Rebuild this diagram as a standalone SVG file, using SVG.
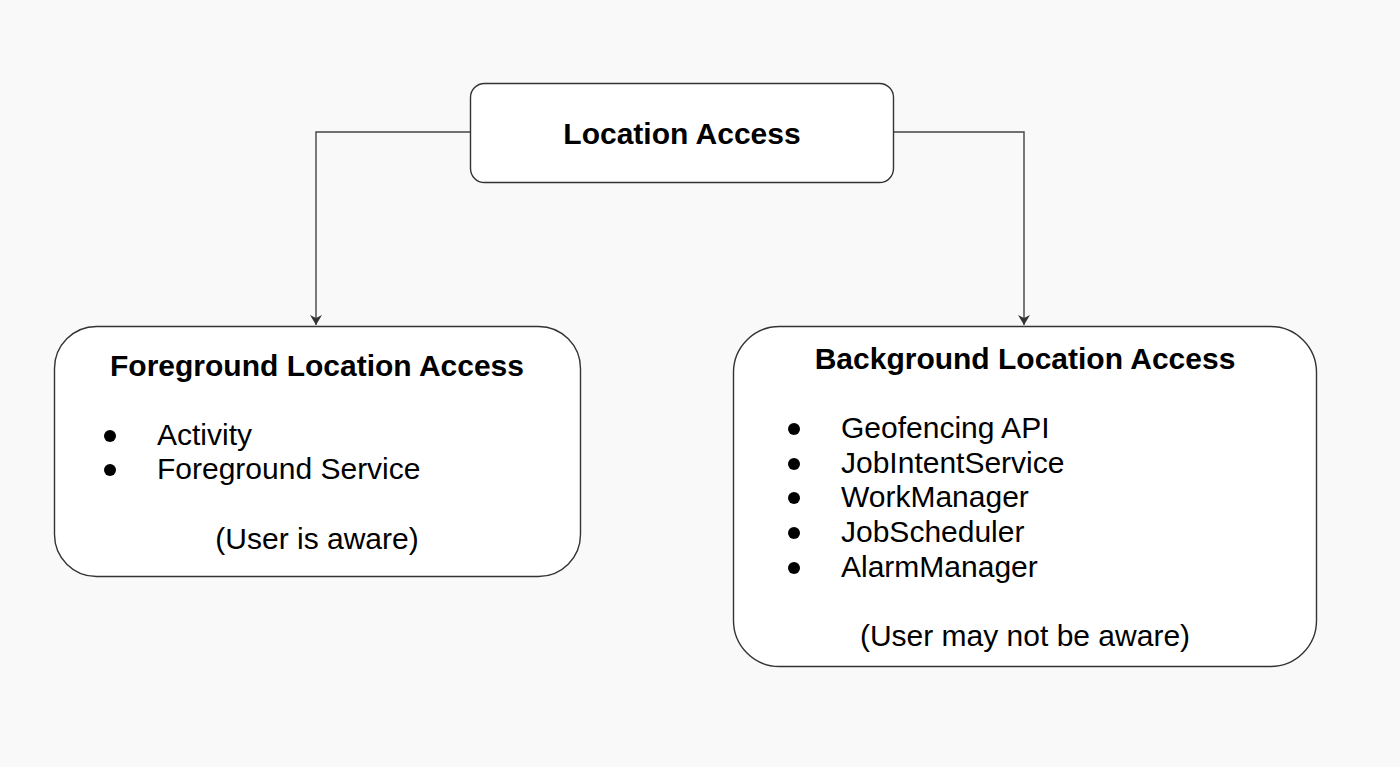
<svg xmlns="http://www.w3.org/2000/svg" width="1400" height="767" viewBox="0 0 1400 767">
<defs>
<style>
.box{fill:#ffffff;stroke:#333333;stroke-width:1.4}
.edge{fill:none;stroke:#444444;stroke-width:1.4}
.t{font-family:"Liberation Sans",Arial,sans-serif;fill:#000000}
.b{font-weight:bold;font-size:30px;text-anchor:middle}
.r{font-size:30px}
.c{text-anchor:middle}
.dot{fill:#000000}
</style>
<marker id="arr" viewBox="0 0 10 12" refX="10" refY="6" markerWidth="10" markerHeight="12" markerUnits="userSpaceOnUse" orient="auto">
<path d="M0,0 L10,6 L0,12 L3,6 Z" fill="#333333"/>
</marker>
</defs>
<rect width="1400" height="767" fill="#f9f9f9"/>
<g id="connectors">
<path class="edge" d="M470,132 H316 V325" marker-end="url(#arr)"/>
<path class="edge" d="M893,132 H1024 V325" marker-end="url(#arr)"/>
</g>
<g id="node-location-access">
<rect class="box" x="470.5" y="83.5" width="423" height="99" rx="14"/>
<text class="t b" x="682" y="144">Location Access</text>
</g>
<g id="node-foreground">
<rect class="box" x="54.5" y="326.5" width="526" height="250" rx="42"/>
<text class="t b" x="317" y="376">Foreground Location Access</text>
<circle class="dot" cx="110" cy="436" r="6"/>
<circle class="dot" cx="110" cy="470" r="6"/>
<text class="t r" x="157" y="445">Activity</text>
<text class="t r" x="157" y="479">Foreground Service</text>
<text class="t r c" x="317" y="549">(User is aware)</text>
</g>
<g id="node-background">
<rect class="box" x="733.5" y="326.5" width="583" height="340" rx="46"/>
<text class="t b" x="1025" y="369">Background Location Access</text>
<circle class="dot" cx="794" cy="429" r="6"/>
<circle class="dot" cx="794" cy="464" r="6"/>
<circle class="dot" cx="794" cy="498" r="6"/>
<circle class="dot" cx="794" cy="533" r="6"/>
<circle class="dot" cx="794" cy="568" r="6"/>
<text class="t r" x="841" y="438">Geofencing API</text>
<text class="t r" x="841" y="473">JobIntentService</text>
<text class="t r" x="841" y="507">WorkManager</text>
<text class="t r" x="841" y="542">JobScheduler</text>
<text class="t r" x="841" y="577">AlarmManager</text>
<text class="t r c" x="1025" y="646">(User may not be aware)</text>
</g>
</svg>
